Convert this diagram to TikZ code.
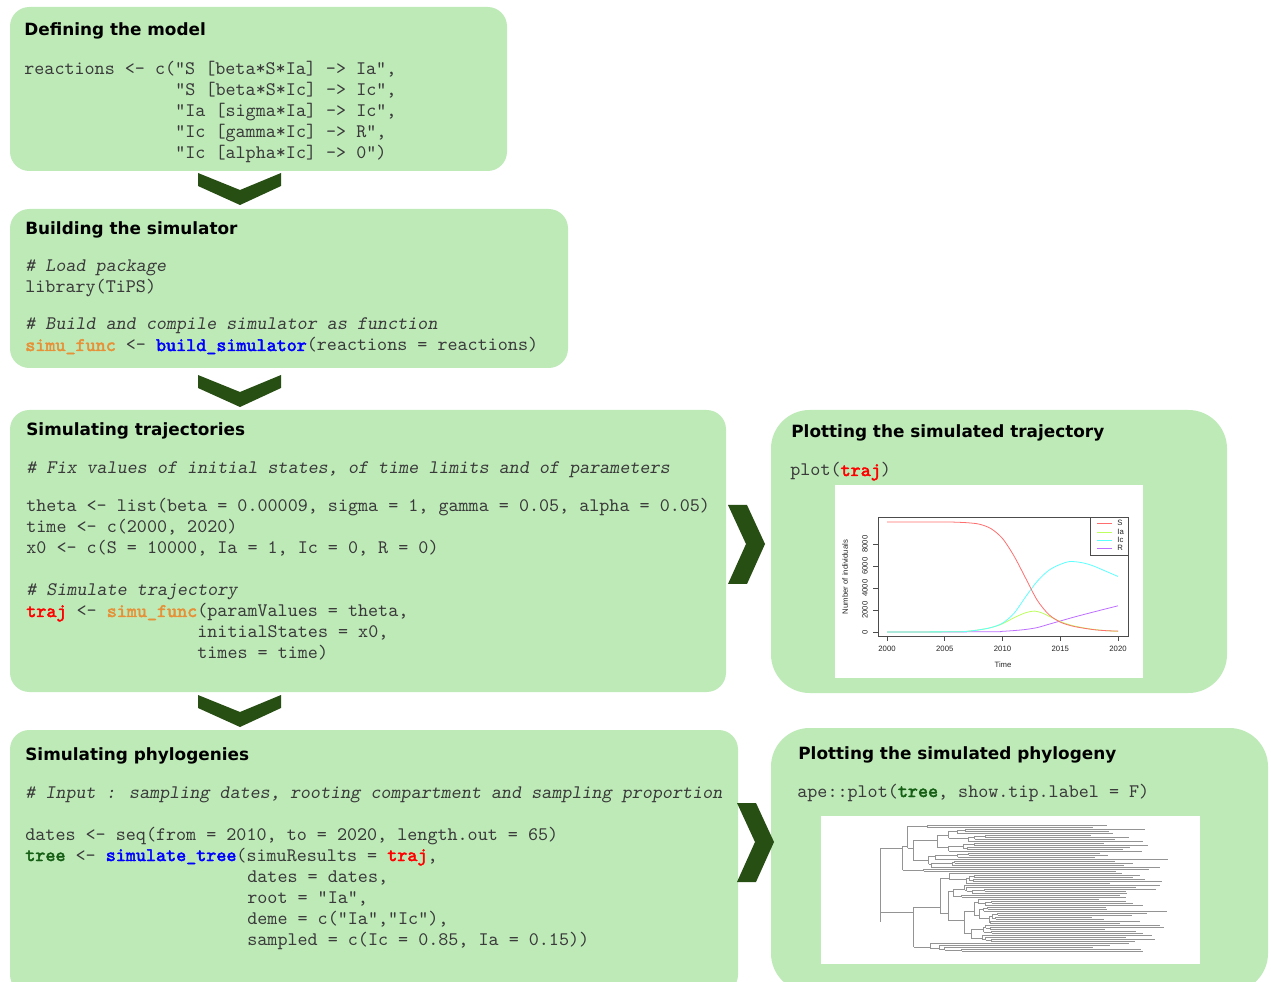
\documentclass[tikz,border=0pt]{standalone}
\usepackage{fontspec}
\newfontfamily\ttlfam{DejaVu Sans}
\newfontfamily\plotfam{Liberation Sans}
\newfontfamily\bcode{Latin Modern Mono}[FakeBold=2.5]
\definecolor{boxgreen}{HTML}{BEEAB8}
\definecolor{chevgreen}{HTML}{274E13}
\definecolor{codegray}{HTML}{3A3A3A}
\definecolor{corange}{HTML}{E69138}
\definecolor{cblue}{HTML}{0000FF}
\definecolor{cred}{HTML}{FF0000}
\definecolor{cgreen}{HTML}{155F14}
\definecolor{pS}{HTML}{FF6E6E}
\definecolor{pIa}{HTML}{BDFF5E}
\definecolor{pIc}{HTML}{5EFFFF}
\definecolor{pR}{HTML}{BE6EFF}
\newcommand\mkclade[3]{%
 \begingroup
 \pgfmathsetmacro\cpx{#1}%
 \pgfmathtruncatemacro\cfa{#2}%
 \pgfmathtruncatemacro\cla{#3}%
 \pgfmathtruncatemacro\cnn{\cla-\cfa}%
 \pgfmathsetmacro\cyy{823+\cfa+\cla}%
 \ifnum\cnn=0\relax
   \pgfmathsetmacro\cex{max(1088+80*rnd,\cpx+20)}%
   \draw[tipline] (\cpx,\cyy) -- (\cex,\cyy);
 \else
   \pgfmathsetmacro\cnx{\cpx+(0.03+0.3*rnd)*(1010-\cpx)}%
   \pgfmathtruncatemacro\csp{\cfa+floor(rnd*\cnn)}%
   \pgfmathtruncatemacro\csq{\csp+1}%
   \pgfmathsetmacro\cya{823+\cfa+\csp}%
   \pgfmathsetmacro\cyb{823+\csq+\cla}%
   \draw[tipline] (\cpx,\cyy) -- (\cnx,\cyy);
   \draw[tipline] (\cnx,\cya) -- (\cnx,\cyb);
   \edef\cnext{\noexpand\mkclade{\cnx}{\cfa}{\csp}\noexpand\mkclade{\cnx}{\csq}{\cla}}%
   \cnext
 \fi
 \endgroup}
\tikzset{
  box/.style={fill=boxgreen, rounded corners=11pt},
  rbox/.style={fill=boxgreen, rounded corners=22pt},
  code/.style={anchor=base west, inner sep=0pt, text=codegray, font=\ttfamily\fontsize{10.9}{12}\selectfont},
  ttl/.style={anchor=base west, inner sep=0pt, text=black, font=\ttlfam\bfseries\fontsize{9.6}{11}\selectfont},
  axisc/.style={draw=black!70, line width=0.35pt},
  ptext/.style={inner sep=0pt, text=black!85, font=\plotfam\fontsize{4.4}{5}\selectfont},
  curve/.style={line width=0.45pt},
  tipline/.style={draw=black!42, line width=0.45pt},
  downchev/.pic={\fill[chevgreen] (-42,-17) -- (0,0) -- (41,-17) -- (41,-4) -- (0,15) -- (-42,-4) -- cycle;},
  rightchev/.pic={\fill[chevgreen] (-19,-39) -- (0,-39) -- (18,0) -- (0,40) -- (-19,40) -- (-1,0) -- cycle;},
}
\newcommand\bo[2]{\textcolor{#1}{\bcode #2}}
\begin{document}
\begin{tikzpicture}[x=0.02cm,y=-0.02cm]
\useasboundingbox (0,0) rectangle (1271,982);
\clip (0,0) rectangle (1271,982);
\fill[white] (0,0) rectangle (1271,982);
% boxes
\path[box] (10,7) rectangle (507,171);
\path[box] (10,209) rectangle (568,368);
\path[box] (10,410) rectangle (726,692);
\path[box] (10,730) rectangle (738,994);
\path[rbox] (771,410) rectangle (1227,693);
\path[rbox] (771,728) rectangle (1268,992);
% chevrons
\pic at (240,190) {downchev};
\pic at (240,392) {downchev};
\pic at (240,712) {downchev};
\pic at (747,544) {rightchev};
\pic at (756,842) {rightchev};
% box 1
\node[ttl] (t1) at (24,36) {Defining the model};
\node[code] (c11) at (24,75) {reactions <- c("S [beta*S*Ia] -> Ia",};
\node[code] (c12) at (175,96) {"S [beta*S*Ic] -> Ic",};
\node[code] (c13) at (175,117) {"Ia [sigma*Ia] -> Ic",};
\node[code] (c14) at (175,138) {"Ic [gamma*Ic] -> R",};
\node[code] (c15) at (175,159) {"Ic [alpha*Ic] -> 0")};
% box 2
\node[ttl] (t2) at (25,235) {Building the simulator};
\node[code] (c21) at (25,272) {\slshape\# Load package};
\node[code] (c22) at (25,293) {library(TiPS)};
\node[code] (c23) at (25,330) {\slshape\# Build and compile simulator as function};
\node[code] (c24) at (25,351) {\bo{corange}{simu\_func} <- \bo{cblue}{build\_simulator}(reactions = reactions)};
% box 3
\node[ttl] (t3) at (26,436) {Simulating trajectories};
\node[code] (c31) at (26,474) {\slshape\# Fix values of initial states, of time limits and of parameters};
\node[code] (c32) at (26,512) {theta <- list(beta = 0.00009, sigma = 1, gamma = 0.05, alpha = 0.05)};
\node[code] (c33) at (26,533) {time <- c(2000, 2020)};
\node[code] (c34) at (26,554) {x0 <- c(S = 10000, Ia = 1, Ic = 0, R = 0)};
\node[code] (c35) at (26,596) {\slshape\# Simulate trajectory};
\node[code] (c36) at (26,617) {\bo{cred}{traj} <- \bo{corange}{simu\_func}(paramValues = theta,};
\node[code] (c37) at (197,638) {initialStates = x0,};
\node[code] (c38) at (197,659) {times = time)};
% box 4
\node[ttl] (t4) at (25,760) {Simulating phylogenies};
\node[code] (c41) at (25,798) {\slshape\# Input : sampling dates, rooting compartment and sampling proportion};
\node[code] (c42) at (25,840) {dates <- seq(from = 2010, to = 2020, length.out = 65)};
\node[code] (c43) at (25,861) {\bo{cgreen}{tree} <- \bo{cblue}{simulate\_tree}(simuResults = \bo{cred}{traj},};
\node[code] (c44) at (247,882) {dates = dates,};
\node[code] (c45) at (247,903) {root = "Ia",};
\node[code] (c46) at (247,924) {deme = c("Ia","Ic"),};
\node[code] (c47) at (247,945) {sampled = c(Ic = 0.85, Ia = 0.15))};
% box 5
\node[ttl] (t5) at (791,438) {Plotting the simulated trajectory};
\node[code] (c51) at (790,476) {plot(\bo{cred}{traj})};
\fill[white] (835,485) rectangle (1143,678);
\draw[axisc] (878,517) rectangle (1128,636);
\foreach \t/\lab in {0/2000,5/2005,10/2010,15/2015,20/2020}{
  \draw[axisc] ({887+11.55*\t},636) -- ({887+11.55*\t},641);
  \node[ptext] (xl\lab) at ({887+11.55*\t},649) {\lab};
}
\foreach \v/\lab in {0/0,2/2000,4/4000,6/6000,8/8000}{
  \draw[axisc] (878,{632-11*\v}) -- (873,{632-11*\v});
  \node[ptext, rotate=90] (yl\lab) at (865,{632-11*\v}) {\lab};
}
\node[ptext] (xlab) at (1003,665) {Time};
\node[ptext, rotate=90] (ylab) at (845,577) {Number of individuals};
\begin{scope}[shift={(887,632)}, xscale=11.55, yscale=-11]
\draw[curve, pR] plot[smooth, tension=0.5] coordinates {(0,0) (9,0.02) (10,0.06) (11,0.13) (12,0.23) (13,0.4) (14,0.7) (15,1.0) (16,1.3) (17,1.58) (18,1.85) (19,2.12) (20,2.38)};
\draw[curve, pIa] plot[smooth, tension=0.5] coordinates {(0,0) (6,0.02) (7,0.07) (8,0.2) (9,0.4) (10,0.75) (11,1.3) (12,1.75) (12.8,1.9) (13.5,1.7) (14,1.45) (15,0.95) (16,0.6) (17,0.38) (18,0.22) (19,0.12) (20,0.06)};
\draw[curve, pIc] plot[smooth, tension=0.5] coordinates {(0,0) (6,0.02) (7,0.07) (8,0.2) (9,0.4) (10,0.8) (11,1.7) (12,3.2) (13,4.6) (14,5.6) (15,6.15) (15.8,6.4) (16.6,6.35) (17.3,6.2) (18,5.95) (19,5.5) (20,5.05)};
\draw[curve, pS] plot[smooth, tension=0.5] coordinates {(0,10) (5,10) (6,9.98) (7,9.93) (8,9.8) (9,9.4) (10,8.5) (11,6.9) (12,4.9) (13,2.9) (14,1.6) (15,0.9) (16,0.55) (17,0.35) (18,0.2) (19,0.12) (20,0.08)};
\end{scope}
\fill[white] (1090,517) rectangle (1128,555);
\draw[axisc] (1090,517) rectangle (1128,555);
\draw[curve, pS] (1097,523) -- (1112,523);
\draw[curve, pIa] (1097,532) -- (1112,532);
\draw[curve, pIc] (1097,540) -- (1112,540);
\draw[curve, pR] (1097,548) -- (1112,548);
\node[ptext, anchor=west] (lS) at (1117,523) {S};
\node[ptext, anchor=west] (lIa) at (1117,532) {Ia};
\node[ptext, anchor=west] (lIc) at (1117,540) {Ic};
\node[ptext, anchor=west] (lR) at (1117,548) {R};
% box 6
\node[ttl] (t6) at (798,759) {Plotting the simulated phylogeny};
\node[code] (c61) at (797,797) {ape::plot(\bo{cgreen}{tree}, show.tip.label = F)};
\fill[white] (821,816) rectangle (1200,964);
\pgfmathsetseed{5}
\draw[tipline] (880,848) -- (880,922);
\mkclade{880}{1}{24}
\mkclade{880}{25}{64}
\end{tikzpicture}
\end{document}
